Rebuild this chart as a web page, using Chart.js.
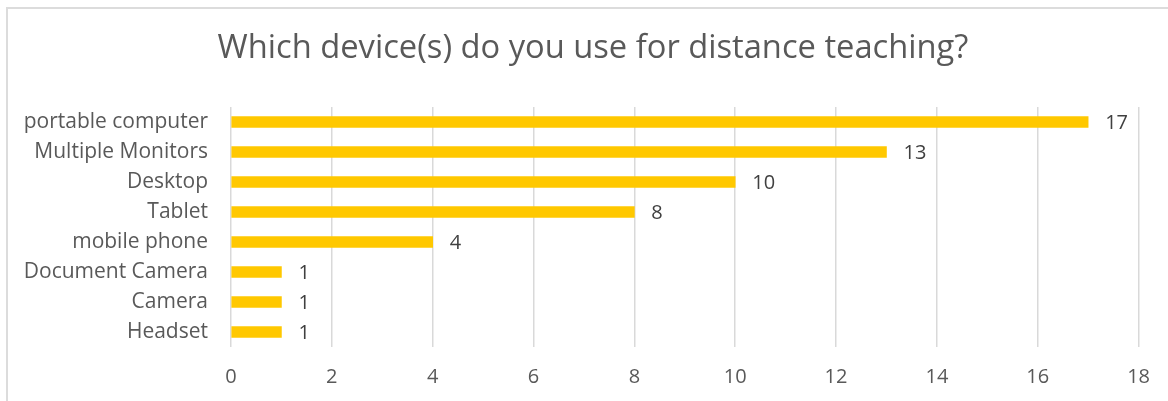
<!DOCTYPE html>
<html>
<head>
<meta charset="utf-8">
<script src="https://cdn.jsdelivr.net/npm/chart.js@4"></script>
<style>
  html, body { margin: 0; padding: 0; background: #fff; }
  #wrap { position: relative; width: 1168px; height: 401px; overflow: hidden; }
  #frame { position: absolute; left: 6px; top: 7px; width: 1200px; height: 450px;
           border-top: 2px solid #dcdcdc; border-left: 2px solid #dcdcdc; box-sizing: border-box; }
  canvas { position: absolute; left: 0; top: 0; }
</style>
</head>
<body>
<div id="wrap">
  <div id="frame"></div>
  <canvas id="c" width="1168" height="401"></canvas>
</div>
<script>
const categories = ["portable computer", "Multiple Monitors", "Desktop", "Tablet", "mobile phone", "Document Camera", "Camera", "Headset"];
const counts = [17, 13, 10, 8, 4, 1, 1, 1];
const xTicks = [0, 2, 4, 6, 8, 10, 12, 14, 16, 18];
const titleText = "Which device(s) do you use for distance teaching?";

const FONT = "'Open Sans', Lato, sans-serif";

const valueLabels = {
  id: 'valueLabels',
  afterDatasetsDraw(chart) {
    const ctx = chart.ctx;
    const meta = chart.getDatasetMeta(0);
    ctx.save();
    ctx.font = "20px " + FONT;
    ctx.fillStyle = "#404040";
    ctx.textAlign = "left";
    ctx.textBaseline = "middle";
    meta.data.forEach((bar, i) => {
      ctx.fillText(String(counts[i]), bar.x + 17, bar.y + 1);
    });
    ctx.restore();
  }
};

const titleShift = {
  id: 'titleShift',
  afterLayout(chart) {
    const t = chart.titleBlock;
    if (t) { t.left = 46; t.right = 1140; }
  }
};

new Chart(document.getElementById('c'), {
  type: 'bar',
  data: {
    labels: categories,
    datasets: [{
      data: counts,
      backgroundColor: '#FFC800',
      barThickness: 11
    }]
  },
  options: {
    indexAxis: 'y',
    responsive: false,
    animation: false,
    layout: { padding: { left: 0, right: 28, top: 0, bottom: 0 } },
    plugins: {
      legend: { display: false },
      tooltip: { enabled: false },
      title: {
        display: true,
        text: titleText,
        color: '#595959',
        font: { family: FONT, size: 32.7, weight: 'normal', lineHeight: 1.2 },
        padding: { top: 28.6, bottom: 39.2 }
      }
    },
    scales: {
      x: {
        min: 0, max: 18,
        afterBuildTicks(scale) { scale.ticks = xTicks.map(v => ({ value: v })); },
        grid: { color: '#d9d9d9', lineWidth: 1.5, drawTicks: false },
        border: { display: false },
        ticks: { color: '#595959', font: { family: FONT, size: 20 }, padding: 18 },
        afterFit(scale) { scale.height = 54; }
      },
      y: {
        grid: { display: false, drawTicks: false },
        border: { display: false },
        ticks: { color: '#595959', font: { family: FONT, size: 21 }, padding: 23 },
        afterFit(scale) { scale.width = 231; }
      }
    }
  },
  plugins: [valueLabels, titleShift]
});
</script>
</body>
</html>
